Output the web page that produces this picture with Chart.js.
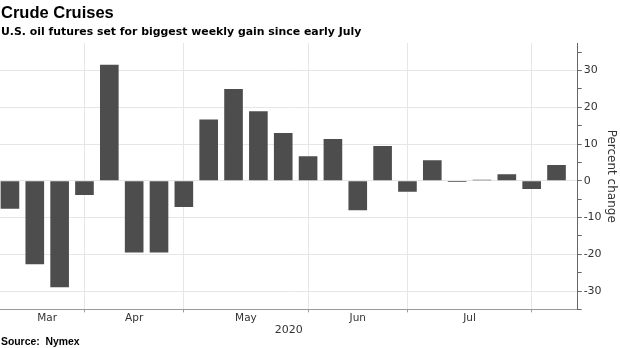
<!DOCTYPE html>
<html>
<head>
<meta charset="utf-8">
<script src="https://cdn.jsdelivr.net/npm/chart.js@4.4.1/dist/chart.umd.min.js"></script>
<style>
    body {
        margin: 0;
        width: 620px;
        height: 348px;
        background: #fff;
        position: relative;
        overflow: hidden;
        font-family: 'Liberation Sans', Arial, sans-serif;
    }
    .title {
        position: absolute;
        left: 1px;
        top: 4px;
        font-size: 16.5px;
        line-height: 16.5px;
        font-weight: bold;
        color: #000;
        white-space: nowrap;
    }
    .subtitle {
        position: absolute;
        left: 1px;
        top: 25.5px;
        font-family: 'DejaVu Sans', sans-serif;
        font-size: 10.9px;
        line-height: 11px;
        font-weight: bold;
        color: #000;
        white-space: nowrap;
    }
    .source {
        position: absolute;
        left: 1px;
        top: 337px;
        font-size: 10.4px;
        line-height: 10px;
        font-weight: bold;
        color: #000;
        white-space: nowrap;
    }
    .chart-wrap {
        position: absolute;
        left: 0;
        top: 0;
        width: 620px;
        height: 348px;
    }
</style>
</head>
<body>
<div class="chart-wrap"><canvas id="crudeChart"></canvas></div>
<div class="title">Crude Cruises</div>
<div class="subtitle">U.S. oil futures set for biggest weekly gain since early July</div>
<div class="source">Source:&nbsp; Nymex</div>

<script>
// weekly closes (Fridays), percent change week over week
const weeks = [
    '2020-03-06', '2020-03-13', '2020-03-20', '2020-03-27',
    '2020-04-03', '2020-04-09', '2020-04-17', '2020-04-24',
    '2020-05-01', '2020-05-08', '2020-05-15', '2020-05-22', '2020-05-29',
    '2020-06-05', '2020-06-12', '2020-06-19', '2020-06-26',
    '2020-07-02', '2020-07-10', '2020-07-17', '2020-07-24', '2020-07-31',
    '2020-08-07'
];
const changes = [
    -7.6, -22.7, -29.0, -3.9,
    31.6, -19.5, -19.5, -7.1,
    16.7, 25.0, 18.9, 13.0, 6.7,
    11.4, -8.0, 9.5, -3.0,
    5.6, -0.3, 0.3, 1.8, -2.2,
    4.3
];

// x axis: month names sit between the month break lines
const monthLabels = ['Mar', 'Apr', 'May', 'Jun', 'Jul'];
const monthMid = [1.5, 5, 9.5, 14, 18.5];
const monthBreaks = [3, 7, 12, 16, 21];

const yTicks = [-35, -30, -25, -20, -15, -10, -5, 0, 5, 10, 15, 20, 25, 30, 35];

const gridColor = '#e6e6e6';
const axisFont = { family: "'DejaVu Sans', sans-serif", size: 11 };

const points = weeks.map((w, i) => ({ x: i, y: changes[i] }));

const crudeChart = new Chart(document.getElementById('crudeChart').getContext('2d'), {
    type: 'bar',
    data: {
        datasets: [
            {
                label: 'Weekly change',
                data: points,
                backgroundColor: '#4d4d4d',
                borderWidth: 0,
                categoryPercentage: 1,
                barPercentage: 0.75
            }
        ]
    },
    options: {
        responsive: true,
        maintainAspectRatio: false,
        animation: false,
        layout: {
            padding: { top: 43, left: 0, right: 0, bottom: 12 }
        },
        plugins: {
            legend: { display: false },
            tooltip: { enabled: false }
        },
        scales: {
            x: {
                type: 'linear',
                position: 'bottom',
                weight: 1,
                min: -0.4,
                max: 22.85,
                offset: false,
                afterBuildTicks: function (axis) {
                    axis.ticks = monthMid.map(v => ({ value: v }));
                },
                ticks: {
                    autoSkip: false,
                    maxRotation: 0,
                    padding: 0,
                    color: '#333',
                    font: { family: "'DejaVu Sans', sans-serif", size: 10.5 },
                    callback: function (value, index) {
                        return monthLabels[index];
                    }
                },
                grid: { display: false, drawTicks: false, tickLength: 0 },
                border: { display: false },
                title: {
                    display: true,
                    text: '2020',
                    color: '#333',
                    font: { family: "'DejaVu Sans', sans-serif", size: 11, lineHeight: 1 },
                    padding: { top: 0, bottom: 0 }
                }
            },
            x2: {
                type: 'linear',
                position: 'bottom',
                weight: 0,
                min: -0.4,
                max: 22.85,
                offset: false,
                afterBuildTicks: function (axis) {
                    axis.ticks = monthBreaks.map(v => ({ value: v }));
                },
                ticks: { display: false },
                grid: {
                    color: gridColor,
                    tickColor: '#999',
                    tickLength: 3,
                    offset: false
                },
                border: { display: true, color: '#999', width: 1 }
            },
            y: {
                type: 'linear',
                position: 'right',
                min: -35,
                max: 37.5,
                afterBuildTicks: function (axis) {
                    axis.ticks = yTicks.map(v => ({ value: v }));
                },
                ticks: {
                    autoSkip: false,
                    padding: 2,
                    color: '#333',
                    font: axisFont,
                    callback: function (value) {
                        return value % 10 === 0 ? String(value) : '';
                    }
                },
                grid: {
                    color: function (ctx) {
                        return ctx.tick && ctx.tick.value % 10 === 0 ? gridColor : 'rgba(0,0,0,0)';
                    },
                    tickColor: '#666',
                    tickLength: 4
                },
                border: { display: true, color: '#666', width: 1 },
                title: {
                    display: true,
                    text: 'Percent change',
                    color: '#333',
                    font: { family: "'DejaVu Sans', sans-serif", size: 12 },
                    padding: { top: 2, bottom: 0 }
                }
            }
        }
    }
});
</script>
</body>
</html>
